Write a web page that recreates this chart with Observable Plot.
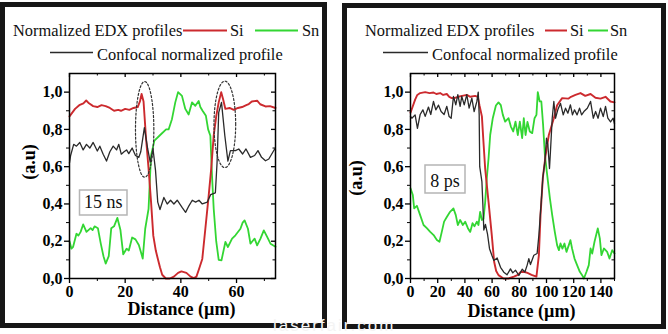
<!DOCTYPE html>
<html><head><meta charset="utf-8">
<script src="https://cdn.jsdelivr.net/npm/d3@7"></script>
<script src="https://cdn.jsdelivr.net/npm/@observablehq/plot@0.6"></script>
<style>
html,body{margin:0;padding:0;background:#fff;}
#root{position:relative;width:668px;height:334px;overflow:hidden;background:#fff;}
.panel{position:absolute;box-sizing:border-box;border:5px solid #161616;}
.abs{position:absolute;top:0;}
</style></head><body>
<div id="root">
 <div class="panel" style="left:0;top:2px;width:327px;height:326px"></div>
 <div class="panel" style="left:342px;top:3px;width:324px;height:326px"></div>
 <div id="plotL" class="abs" style="left:0"></div>
 <div id="plotR" class="abs" style="left:340px"></div>
 <svg id="overlay" class="abs" style="left:0" width="668" height="334"></svg>
</div>
<script>
// ---------- Left panel (15 ns) ----------
const siLeft = [[0,0.87],[1,0.89],[2,0.91],[3.5,0.93],[5,0.94],[6,0.955],[7,0.94],[8.5,0.925],[10,0.92],[11.5,0.93],[13,0.925],[14.5,0.915],[16,0.9],[17.5,0.905],[18.5,0.9],[20,0.91],[21.5,0.905],[23,0.915],[24.5,0.92],[25.3,0.95],[25.9,0.99],[26.6,0.95],[27.5,0.75],[28.4,0.59],[29.3,0.41],[30.1,0.23],[31,0.15],[31.7,0.107],[32.5,0.06],[33.3,0.02],[34.6,0],[36,0],[37.5,0.01],[39,0.03],[40.2,0.038],[42,0.03],[43.5,0.01],[44.7,0.002],[45.6,0.01],[46.5,0.05],[47.7,0.105],[48.8,0.267],[50,0.445],[50.9,0.588],[51.8,0.766],[52.7,0.87],[53.6,0.945],[54.5,1.0],[55.2,0.96],[56,0.91],[57.5,0.915],[59,0.905],[60.5,0.915],[62,0.92],[63.5,0.93],[64.4,0.936],[65.5,0.95],[67.4,0.954],[68.5,0.935],[70.4,0.923],[72,0.925],[74,0.915]];
const snLeft = [[0,0.2],[0.7,0.16],[1.3,0.17],[2.5,0.24],[3.2,0.23],[4,0.25],[4.9,0.29],[6.1,0.25],[7.6,0.27],[8.3,0.26],[9,0.28],[10.2,0.27],[11.2,0.19],[12.2,0.12],[13,0.08],[14.1,0.12],[15,0.27],[16,0.28],[17.2,0.325],[18.3,0.26],[19.3,0.13],[20.5,0.16],[21.3,0.15],[22.5,0.22],[23.7,0.21],[24.9,0.18],[25.7,0.14],[26.3,0.107],[27.2,0.267],[28.4,0.374],[28.9,0.535],[29.3,0.66],[30.5,0.74],[32.3,0.766],[34.7,0.8],[35.6,0.8],[36.8,0.855],[38,0.945],[39,1.0],[40.4,0.98],[41.6,0.91],[42.8,0.88],[44,0.945],[45.2,0.927],[46.4,0.953],[47,0.92],[47.8,0.9],[49,0.873],[49.8,0.8],[50.6,0.766],[51.2,0.55],[51.8,0.374],[52.7,0.2],[53.6,0.1],[54.6,0.098],[56,0.196],[56.9,0.169],[58.4,0.214],[59.6,0.232],[61.4,0.267],[62.2,0.3],[62.9,0.312],[64.1,0.267],[65,0.187],[65.7,0.2],[66.5,0.214],[67.4,0.178],[68.6,0.214],[69.8,0.258],[71,0.223],[72.2,0.187],[74,0.17]];
const confLeft = [[0,0.62],[0.4,0.66],[1.5,0.72],[2.5,0.71],[3.7,0.73],[4.9,0.69],[6.1,0.72],[7.3,0.7],[8.5,0.73],[10,0.684],[10.9,0.71],[12.1,0.667],[13.3,0.63],[14.5,0.68],[15.7,0.71],[16.9,0.69],[17.7,0.72],[18.6,0.667],[19.6,0.68],[20.5,0.69],[21.3,0.67],[22.5,0.7],[23.7,0.66],[24.9,0.65],[25.6,0.68],[26.9,0.81],[28.1,0.695],[29,0.624],[30,0.695],[30.9,0.58],[31.7,0.41],[32.5,0.37],[33.9,0.435],[35.1,0.4],[36.3,0.42],[37.5,0.4],[38.7,0.42],[40.5,0.38],[41.7,0.355],[42.9,0.39],[44.1,0.42],[45.3,0.41],[46.5,0.42],[47.7,0.4],[49.5,0.41],[50.7,0.45],[52.4,0.46],[53,0.62],[53.6,0.89],[54.6,0.945],[55.8,0.766],[56.9,0.63],[57.8,0.686],[59.6,0.686],[60.8,0.695],[62.2,0.668],[63.4,0.695],[65,0.65],[66.5,0.66],[67.7,0.686],[69,0.65],[70.4,0.632],[71.6,0.641],[73.7,0.695],[74,0.69]];
// dotted ellipses: [centre x, centre y, radius x, radius y]
const ellipsesLeft = [[27,0.8,3.3,0.257],[55.8,0.827,3.9,0.232]];
const xTicksLeft = [0,20,40,60];
const xMinorLeft = [10,30,50,70];

// ---------- Right panel (8 ps) ----------
const siRight = [[0,0.89],[1.5,0.92],[3.4,0.96],[5,0.985],[7.1,0.995],[10.8,1.0],[14,0.995],[16.9,0.998],[19,0.99],[21.8,0.995],[24,0.985],[26.7,0.99],[28.5,0.975],[30.4,0.968],[33,0.97],[35.3,0.975],[38,0.98],[41.4,0.985],[44,0.975],[47.5,0.98],[49.5,0.975],[50.7,0.93],[52.5,0.87],[53.5,0.75],[54.9,0.59],[57.4,0.41],[59.8,0.23],[61.5,0.09],[63,0.04],[64.7,0.018],[68.4,0],[72,0],[76,0.01],[79,0.02],[81,0.036],[84,0.035],[86,0.03],[89,0.02],[92.6,0.01],[94.4,0.125],[95.6,0.34],[97.3,0.54],[99.3,0.66],[101.7,0.77],[105.4,0.86],[107.8,0.93],[111.5,0.968],[116,0.965],[118,0.975],[121.3,0.985],[125,0.995],[128.5,0.98],[132.4,0.99],[136,0.97],[139.7,0.965],[143.4,0.975],[147,0.95],[150,0.945]];
const snRight = [[0,0.484],[1.7,0.448],[2.7,0.376],[4.7,0.39],[7.1,0.34],[9.6,0.287],[12,0.27],[14.5,0.25],[17,0.233],[19.4,0.206],[21.3,0.197],[23,0.25],[24.7,0.305],[26.7,0.33],[29.1,0.358],[31.6,0.376],[33.3,0.34],[34.8,0.287],[36.5,0.314],[38.5,0.287],[40.2,0.305],[42.2,0.27],[43.9,0.25],[45.6,0.297],[47,0.28],[48.8,0.305],[50,0.287],[51.2,0.358],[52.5,0.314],[53.7,0.32],[54.9,0.41],[56.1,0.538],[57.4,0.645],[58.6,0.77],[60.5,0.86],[62.8,0.928],[64.7,0.945],[66.4,0.93],[67.9,0.878],[69.6,0.842],[72.1,0.86],[73.8,0.815],[75.5,0.789],[77.2,0.842],[78.9,0.77],[80.4,0.842],[82.1,0.753],[83.3,0.86],[84.6,0.77],[86,0.84],[87.7,0.789],[89.5,0.78],[91.2,0.86],[92.6,0.878],[93.6,1.0],[95,0.95],[96.2,0.95],[97.5,0.824],[98.8,0.663],[100.5,0.556],[102.5,0.43],[104.2,0.34],[106.1,0.25],[107.8,0.179],[109.1,0.152],[110.3,0.188],[111.7,0.16],[113.2,0.188],[114.7,0.143],[116.4,0.179],[117.6,0.206],[118.8,0.161],[120.6,0.107],[122.5,0.072],[124.5,0.036],[126.2,0.018],[127.5,0],[129.4,0.036],[131.1,0.072],[132.4,0.161],[133.6,0.134],[135.3,0.197],[137.7,0.269],[139.2,0.215],[140.4,0.125],[142.2,0.161],[144.6,0.143],[146.3,0.107],[148.3,0.152],[150,0.134]];
const confRight = [[0,0.87],[1,0.86],[3.4,0.878],[5.1,0.806],[7.1,0.88],[9.1,0.905],[10.8,0.87],[13.2,0.92],[14.9,0.88],[16.9,0.95],[18.6,0.905],[20.6,0.93],[22.5,0.896],[24.7,0.88],[26.7,0.924],[28.4,0.869],[29.9,0.86],[31.6,0.977],[33.3,0.932],[34.8,0.986],[36.5,0.924],[37.7,0.977],[39.5,0.932],[41.4,0.986],[43.1,0.914],[45.1,0.968],[46.8,0.896],[48.8,0.95],[49.8,1.0],[50.5,0.88],[50.9,0.6],[52.5,0.52],[53.2,0.4],[53.9,0.26],[55.1,0.29],[56.6,0.24],[58.1,0.16],[59.8,0.125],[61.3,0.097],[63.7,0.11],[66.2,0.06],[68.6,0.034],[71,0.02],[73.5,0.052],[75.2,0.03],[77.2,0.045],[79.7,0.016],[82.1,0.05],[84.1,0.035],[85.8,0.072],[87,0.107],[88.2,0.075],[90.7,0.125],[93.1,0.134],[94.4,0.233],[96.1,0.41],[97.3,0.54],[98.8,0.627],[100,0.753],[101,0.717],[102.2,0.59],[102.9,0.68],[104.2,0.86],[105.4,0.95],[106.6,0.86],[108.3,0.905],[110.3,0.94],[112.3,0.878],[114,0.914],[115.7,0.887],[117.6,0.932],[119.1,0.878],[120.6,0.905],[122.5,0.878],[124.3,0.914],[125.8,0.878],[127.5,0.896],[130,0.914],[132.4,0.95],[134.4,0.86],[136.1,0.896],[137.9,0.86],[139.7,0.914],[141.7,0.869],[143.4,0.924],[145.1,0.86],[147.1,0.84],[149,0.86],[150,0.83]];
const xTicksRight = [0,20,40,60,80,100,120,140];
const xMinorRight = [10,30,50,70,90,110,130,150];

const yTicks = [0,0.2,0.4,0.6,0.8,1.0];
const yMinor = [0.1,0.3,0.5,0.7,0.9];

const legendTitle = "Normalized EDX profiles";
const seriesNames = ["Si","Sn"];
const confName = "Confocal normalized profile";
const panelLabels = ["15 ns","8 ps"];
const xTitle = "Distance (µm)";
const yTitle = "(a.u)";

const RED = "#cc2a2e", GREEN = "#33d633", BLACK = "#2a2a2a";
const toObj = a => a.map(([x,y]) => ({x,y}));
const fmt = d => d.toFixed(1).replace(".", ",");

function makePanel({si, sn, conf, xMax, xMajor, xMinor, width, mLeft, mRight, ellipses}) {
  const fw = width - mLeft - mRight, fh = 334 - 73 - 56;
  const ell = [];
  (ellipses||[]).forEach(([cx,cy,rx,ry],k) => {
    d3.range(0, 361, 6).forEach(a => {
      const t = a*Math.PI/180;
      ell.push({k, x: cx + rx*Math.cos(t), y: cy + ry*Math.sin(t)});
    });
  });
  return Plot.plot({
    width, height: 334,
    marginLeft: mLeft, marginRight: mRight, marginTop: 73, marginBottom: 56,
    x: {domain: [0, xMax]},
    y: {domain: [0, 1.1]},
    style: {background: "transparent", fontFamily: "'Liberation Serif','Times New Roman',serif", fontSize: "16px", fontWeight: "bold", color: "#000", overflow: "visible"},
    marks: [
      Plot.line(toObj(sn), {x: "x", y: "y", stroke: GREEN, strokeWidth: 1.8}),
      Plot.line(toObj(si), {x: "x", y: "y", stroke: RED, strokeWidth: 1.9}),
      Plot.line(toObj(conf), {x: "x", y: "y", stroke: BLACK, strokeWidth: 1.3}),
      Plot.line(ell, {x: "x", y: "y", z: "k", stroke: "#333", strokeWidth: 1.2, strokeDasharray: "2,2"}),
      Plot.frame({stroke: "#000", strokeWidth: 1.5}),
      Plot.axisX(xMajor, {tickSize: 5, tickPadding: 2, label: null, stroke: "#000", strokeWidth: 1.3}),
      Plot.axisX(xMinor, {tickSize: 3, label: null, tickFormat: () => "", stroke: "#000"}),
      Plot.axisY(yTicks, {tickSize: 5, tickPadding: 2, label: null, tickFormat: fmt, stroke: "#000", strokeWidth: 1.3}),
      Plot.axisY(yMinor, {tickSize: 3, label: null, tickFormat: () => "", stroke: "#000"}),
      Plot.tickX(xMajor, {x: d => d, insetBottom: fh - 4, stroke: "#000", strokeWidth: 1.3}),
      Plot.tickX(xMinor, {x: d => d, insetBottom: fh - 2.5, stroke: "#000"}),
      Plot.tickY(yTicks, {y: d => d, insetLeft: fw - 4, stroke: "#000", strokeWidth: 1.3}),
      Plot.tickY(yMinor, {y: d => d, insetLeft: fw - 2.5, stroke: "#000"})
    ]
  });
}

document.getElementById("plotL").append(makePanel({si: siLeft, sn: snLeft, conf: confLeft, xMax: 74, xMajor: xTicksLeft, xMinor: xMinorLeft, width: 330, mLeft: 69, mRight: 55, ellipses: ellipsesLeft}));
document.getElementById("plotR").append(makePanel({si: siRight, sn: snRight, conf: confRight, xMax: 150, xMajor: xTicksRight, xMinor: xMinorRight, width: 328, mLeft: 70, mRight: 54, ellipses: []}));

// ---------- overlay: legends, labels, boxes ----------
const svg = d3.select("#overlay");
const serif = "'Liberation Serif','Times New Roman',serif";
function txt(x, y, s, opts = {}) {
  const t = svg.append("text").attr("x", x).attr("y", y).text(s)
    .attr("font-family", opts.family || serif).attr("font-size", opts.size || 16.4)
    .attr("font-weight", opts.weight || "normal").attr("fill", opts.fill || "#111")
    .attr("text-anchor", opts.anchor || "start");
  if (opts.rotate) t.attr("transform", `rotate(-90 ${x} ${y})`);
  if (opts.spacing) t.attr("letter-spacing", opts.spacing);
  return t;
}
function seg(x1, x2, y, color, w) {
  svg.append("line").attr("x1", x1).attr("x2", x2).attr("y1", y).attr("y2", y).attr("stroke", color).attr("stroke-width", w);
}
const legends = [
  {t: 13, r1: [183,227], s: 230, g: [255,298], n: 302, k: [50,93], c: 97},
  {t: 365, r1: [545,567], s: 570, g: [588,608], n: 610, k: [383,428], c: 432}
];
legends.forEach(L => {
  txt(L.t, 36, legendTitle);
  seg(L.r1[0], L.r1[1], 30.5, RED, 2);
  txt(L.s, 36, seriesNames[0]);
  seg(L.g[0], L.g[1], 30.5, GREEN, 2);
  txt(L.n, 36, seriesNames[1]);
  seg(L.k[0], L.k[1], 52.5, BLACK, 1.4);
  txt(L.c, 60, confName);
});
// axis titles
txt(181.5, 315, xTitle, {size: 18, weight: "bold", anchor: "middle", fill: "#000"});
txt(521.5, 316.5, xTitle, {size: 18, weight: "bold", anchor: "middle", fill: "#000"});
txt(35, 162, yTitle, {size: 18, weight: "bold", anchor: "middle", fill: "#000", rotate: true});
txt(362, 178, yTitle, {size: 18, weight: "bold", anchor: "middle", fill: "#000", rotate: true});
// condition boxes
const boxes = [[79.5,190,47.5,25,103.3,207.5],[425,165,40,28,445,186.5]];
boxes.forEach(([x,y,w,h,tx,ty],i) => {
  svg.append("rect").attr("x", x).attr("y", y).attr("width", w).attr("height", h)
    .attr("fill", "#fff").attr("stroke", "#b5b5b5").attr("stroke-width", 1.5);
  txt(tx, ty, panelLabels[i], {size: 18, anchor: "middle", fill: "#111"});
});
// watermark over bottom border
txt(273, 331, "laserfair.com", {family: "'Liberation Sans',Arial,sans-serif", size: 17, fill: "#f4f4f4", spacing: 2});
</script>
</body></html>
